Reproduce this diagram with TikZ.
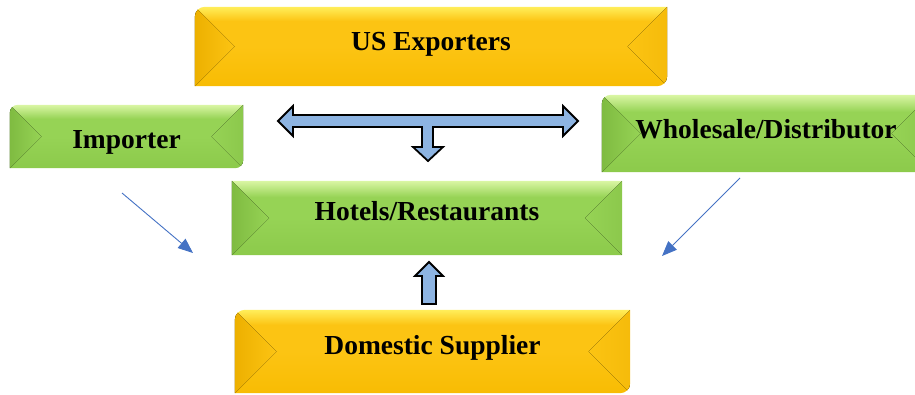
\documentclass[tikz,border=0pt]{standalone}
\usepackage{fontspec}
\setmainfont{Liberation Serif}
\usetikzlibrary{calc,arrows.meta,backgrounds}

\definecolor{goldhi}{HTML}{FFEE5A}
\definecolor{goldmid}{HTML}{FCC413}
\definecolor{goldlo}{HTML}{F8BC03}
\definecolor{goldside}{HTML}{EDB000}
\definecolor{leafhi}{HTML}{DAF6A4}
\definecolor{leafmid}{HTML}{96D355}
\definecolor{leaflo}{HTML}{8CCA4B}
\definecolor{leafside}{HTML}{7FBB41}
\definecolor{flowblue}{HTML}{8DB4E2}
\definecolor{linkblue}{HTML}{4472C4}

\pgfdeclareverticalshading{goldface}{100bp}{color(0bp)=(goldlo); color(25bp)=(goldlo);
  color(50bp)=(goldmid); color(66bp)=(goldmid); color(75bp)=(goldhi); color(100bp)=(goldhi)}
\pgfdeclareverticalshading{leafface}{100bp}{color(0bp)=(leaflo); color(25bp)=(leaflo);
  color(50bp)=(leafmid); color(64bp)=(leafmid); color(75bp)=(leafhi); color(100bp)=(leafhi)}

\tikzset{
  box/.style={font=\fontsize{27.5}{30}\selectfont\bfseries, inner sep=0pt, text height=18pt},
  block/.style={fill=flowblue, draw=black, line width=1.8pt, line join=miter},
  link/.style={draw=linkblue, line width=0.9pt, -{Triangle[length=15pt,width=12pt]}}
}

% bevelled box behind a node: #1 node, #2 colour set, #3 corner radius
\newcommand\bevelbox[3]{%
  \begin{scope}[x=1pt,y=1pt]
    \clip (#1.south west) -- ([yshift=-#3]#1.north west)
      arc[start angle=180, end angle=90, radius=#3] -- (#1.north east)
      -- ([yshift=#3]#1.south east)
      arc[start angle=0, end angle=-90, radius=#3] -- cycle;
    \path let \p1=(#1.north west), \p2=(#1.south east), \n1={(\y1-\y2)/2} in
      (\x1,\y1) coordinate (tl) (\x2,\y1) coordinate (tr)
      (\x2,\y2) coordinate (br) (\x1,\y2) coordinate (bl)
      ({\x1+\n1},{\y1-\n1}) coordinate (ml) ({\x2-\n1},{\y1-\n1}) coordinate (mr);
    \shade[shading=#2face] (tl) rectangle (br);
    \fill[left color=#2side, right color=#2mid] (tl) -- (ml) -- (bl) -- cycle;
    \fill[left color=#2mid, right color=#2side!45!#2mid] (tr) -- (mr) -- (br) -- cycle;
  \end{scope}}

\begin{document}
\begin{tikzpicture}[x=1pt,y=-1pt]
  \clip (0,0) rectangle (915,394);

  \node[box, text depth=11pt, minimum width=472pt, minimum height=79pt] (us) at (431,46.5) {US Exporters};
  \node[box, text height=23pt, text depth=0pt, minimum width=233pt, minimum height=63pt] (imp) at (126.5,136.5) {Importer};
  \node[box, text depth=9pt, minimum width=328pt, minimum height=77pt] (whole) at (766,133.5) {Wholesale/Distributor};
  \node[box, text depth=14pt, minimum width=390pt, minimum height=74pt] (hotel) at (427,218) {Hotels/Restaurants};
  \node[box, text depth=13pt, minimum width=395pt, minimum height=83pt] (dom) at (432.5,351.5) {Domestic Supplier};

  \begin{scope}[on background layer]
    \bevelbox{us}{gold}{10pt}
    \bevelbox{imp}{leaf}{8pt}
    \bevelbox{whole}{leaf}{9pt}
    \bevelbox{hotel}{leaf}{0.1pt}
    \bevelbox{dom}{gold}{10pt}
  \end{scope}

  \draw[block] (278,121) -- (293,106) -- (293,115) -- (563,115) -- (563,106)
    -- (578,121) -- (563,136) -- (563,127) -- (433,127) -- (433,147)
    -- (443,147) -- (428,161) -- (413,147) -- (422,147) -- (422,127)
    -- (293,127) -- (293,136) -- cycle;
  \draw[block] (429,262) -- (443,276) -- (436,276) -- (436,304)
    -- (422,304) -- (422,276) -- (415,276) -- cycle;

  \coordinate (l1) at (122,193);
  \coordinate (l2) at (193,253);
  \coordinate (r1) at (740,178);
  \coordinate (r2) at (662,256);
  \draw[link] (l1) -- (l2);
  \draw[link] (r1) -- (r2);
\end{tikzpicture}
\end{document}
